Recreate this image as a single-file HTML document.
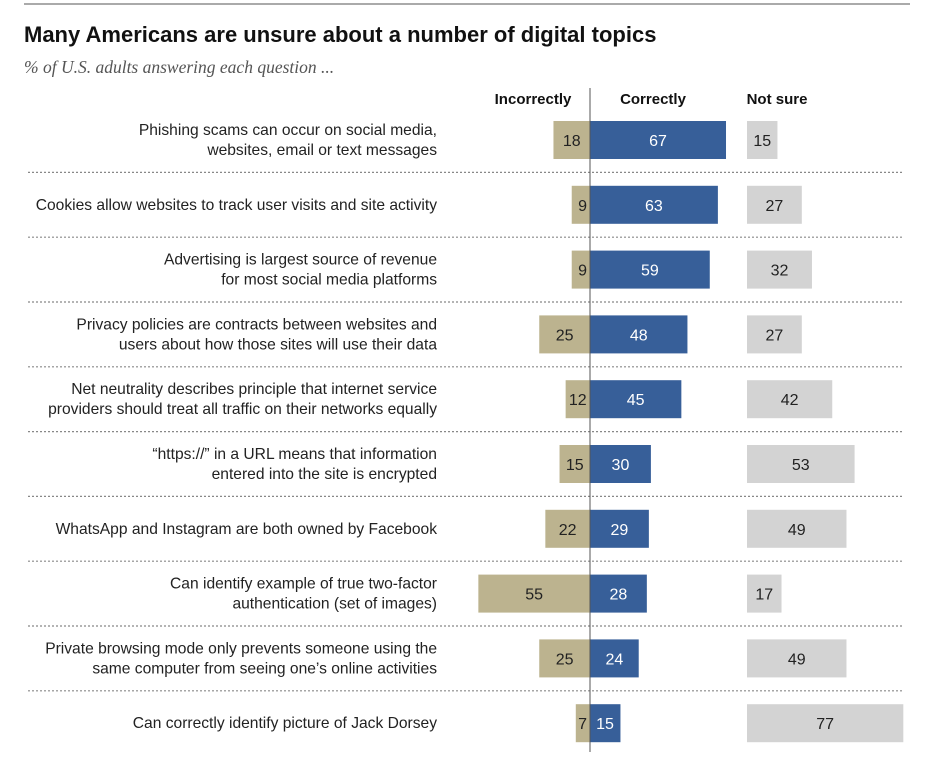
<!DOCTYPE html>
<html><head><meta charset="utf-8"><style>
body{margin:0;background:#fff;}
svg{display:block;font-family:"Liberation Sans",sans-serif;}
</style></head><body>
<svg id="chart" width="950" height="760">
<line x1="24" y1="4" x2="910" y2="4" stroke="#555" stroke-width="1"/>
<text x="24" y="42" font-size="22" font-weight="bold" fill="#111">Many Americans are unsure about a number of digital topics</text>
<text x="24" y="73" font-size="17.5" font-style="italic" fill="#555" font-family="Liberation Serif, serif">% of U.S. adults answering each question ...</text>
<text x="533" y="104" font-size="15" font-weight="bold" text-anchor="middle" fill="#111">Incorrectly</text>
<text x="653" y="104" font-size="15" font-weight="bold" text-anchor="middle" fill="#111">Correctly</text>
<text x="777" y="104" font-size="15" font-weight="bold" text-anchor="middle" fill="#111">Not sure</text>
<g id="rows"></g>
<line x1="590" y1="88" x2="590" y2="752" stroke="#555" stroke-width="1"/>
</svg>
<script>
const labels=[["Phishing scams can occur on social media,","websites, email or text messages"],["Cookies allow websites to track user visits and site activity"],["Advertising is largest source of revenue","for most social media platforms"],["Privacy policies are contracts between websites and","users about how those sites will use their data"],["Net neutrality describes principle that internet service","providers should treat all traffic on their networks equally"],["\u201chttps://\u201d in a URL means that information","entered into the site is encrypted"],["WhatsApp and Instagram are both owned by Facebook"],["Can identify example of true two-factor","authentication (set of images)"],["Private browsing mode only prevents someone using the","same computer from seeing one\u2019s online activities"],["Can correctly identify picture of Jack Dorsey"]];
const incorrect=[18,9,9,25,12,15,22,55,25,7];
const correct=[67,63,59,48,45,30,29,28,24,15];
const notSure=[15,27,32,27,42,53,49,17,49,77];
const NS="http://www.w3.org/2000/svg";
const g=document.getElementById('rows');
const k=2.03, zero=590, nsX=747, y0=140, step=64.8, bh=38;
const xs=v=>v*k;
const yc=i=>y0+i*step;
function mk(t,a){const e=document.createElementNS(NS,t);for(const q in a)e.setAttribute(q,a[q]);g.appendChild(e);return e;}
labels.forEach((lab,i)=>{
  const c=yc(i);
  lab.forEach((ln,j)=>{
    const t=mk('text',{x:437,y:c+5+(j-(lab.length-1)/2)*20,'font-size':15.6,'text-anchor':'end',fill:'#222'});
    
    
    t.textContent=ln;
  });
  const wi=xs(incorrect[i]);
  const r1=mk('rect',{x:zero-wi,y:c-bh/2,width:wi,height:bh,fill:'#bcb38f'});
  
  
  const t1=mk('text',{x:incorrect[i]<12?zero-3:zero-wi/2,y:c+6,'font-size':16,'text-anchor':incorrect[i]<12?'end':'middle',fill:'#222'});
  
  
  t1.textContent=incorrect[i];
  const wc=xs(correct[i]);
  const r2=mk('rect',{x:zero,y:c-bh/2,width:wc,height:bh,fill:'#375f99'});
  
  
  const t2=mk('text',{x:correct[i]<20?zero+15:zero+wc/2,y:c+6,'font-size':16,'text-anchor':'middle',fill:'#fff'});
  
  
  t2.textContent=correct[i];
  const wn=xs(notSure[i]);
  const r3=mk('rect',{x:nsX,y:c-bh/2,width:wn,height:bh,fill:'#d3d3d3'});
  
  
  const t3=mk('text',{x:nsX+wn/2,y:c+6,'font-size':16,'text-anchor':'middle',fill:'#222'});
  
  
  t3.textContent=notSure[i];
  if(i<labels.length-1){
    const l=mk('line',{x1:28,x2:904,y1:c+step/2,y2:c+step/2,stroke:'#888','stroke-width':1.2,'stroke-dasharray':'2,2'});
    
    
  }
});
</script>
</body></html>
